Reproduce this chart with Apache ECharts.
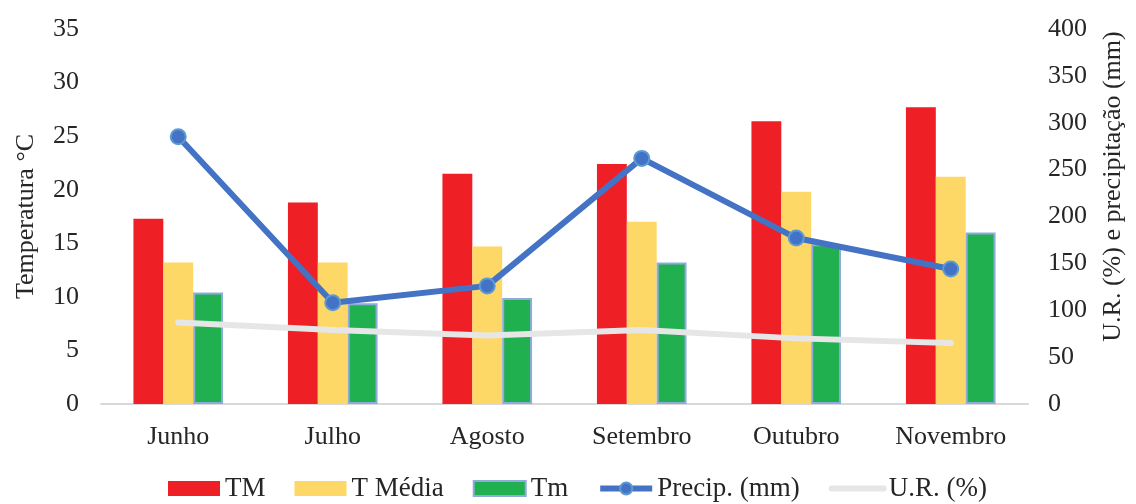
<!DOCTYPE html>
<html>
<head>
<meta charset="utf-8">
<script src="https://cdn.jsdelivr.net/npm/echarts@6/dist/echarts.min.js"></script>
<style>
  html, body { margin: 0; padding: 0; background: #ffffff; }
  #chart { width: 1136px; height: 504px; }
</style>
</head>
<body>
<div id="chart"></div>
<script>
// Monthly climate data: temperatures (°C), rainfall (mm) and relative humidity (%)
const months = ['Junho', 'Julho', 'Agosto', 'Setembro', 'Outubro', 'Novembro'];
const tMax = [17.3, 18.8, 21.5, 22.4, 26.4, 27.7];
const tMean = [13.2, 13.2, 14.7, 17.0, 19.8, 21.2];
const tMin = [10.4, 9.4, 9.9, 13.2, 14.9, 16.0];
const precip = [285, 108, 126, 262, 177, 144];
const relHum = [87, 79, 73, 79, 70, 65];
const tempTicks = [0, 5, 10, 15, 20, 25, 30, 35];
const rightTicks = [0, 50, 100, 150, 200, 250, 300, 350, 400];

const serif = '"Liberation Serif", "DejaVu Serif", serif';
const textColor = '#262626';
const blue = '#4472c4';
const grey = '#e6e6e6';

const chart = echarts.init(document.getElementById('chart'), null, { renderer: 'canvas' });

chart.setOption({
  animation: false,
  textStyle: { fontFamily: serif },
  grid: { left: 101, right: 108, top: 29, bottom: 100 },
  legend: {
    top: 470,
    left: 163,
    itemWidth: 52,
    itemHeight: 15,
    itemGap: 29,
    textStyle: { fontFamily: serif, fontSize: 27, color: textColor },
    data: [
      { name: 'TM', icon: 'rect' },
      { name: 'T Média', icon: 'rect' },
      { name: 'Tm', icon: 'rect' },
      {
        name: 'Precip. (mm)',
        itemStyle: { color: blue, borderColor: '#5b9bd5', borderWidth: 2 },
        lineStyle: { color: blue, width: 6 }
      },
      {
        name: 'U.R. (%)',
        itemStyle: { color: 'rgba(0,0,0,0)', borderWidth: 0 },
        lineStyle: { color: grey, width: 6 }
      }
    ]
  },
  xAxis: {
    type: 'category',
    data: months,
    axisLine: { lineStyle: { color: '#d9d9d9', width: 2 } },
    axisTick: { show: false },
    axisLabel: { fontFamily: serif, fontSize: 26, color: textColor, margin: 20 }
  },
  yAxis: [
    {
      type: 'value',
      min: tempTicks[0],
      max: tempTicks[tempTicks.length - 1],
      interval: 5,
      name: 'Temperatura °C',
      nameLocation: 'middle',
      nameGap: 62,
      nameRotate: 90,
      nameTextStyle: { fontFamily: serif, fontSize: 26, color: textColor },
      axisLine: { show: false },
      axisTick: { show: false },
      splitLine: { show: false },
      axisLabel: { fontFamily: serif, fontSize: 26, color: textColor, margin: 22 }
    },
    {
      type: 'value',
      min: rightTicks[0],
      max: rightTicks[rightTicks.length - 1],
      interval: 50,
      name: 'U.R. (%) e precipitação (mm)',
      nameLocation: 'middle',
      nameGap: 72,
      nameRotate: 90,
      nameTextStyle: { fontFamily: serif, fontSize: 26, color: textColor, padding: [0, 0, 0, 60] },
      axisLine: { show: false },
      axisTick: { show: false },
      splitLine: { show: false },
      axisLabel: { fontFamily: serif, fontSize: 26, color: textColor, margin: 20 }
    }
  ],
  series: [
    {
      name: 'TM',
      type: 'bar',
      data: tMax,
      barGap: '0%',
      barCategoryGap: '42%',
      itemStyle: { color: '#ee1f25' }
    },
    {
      name: 'T Média',
      type: 'bar',
      data: tMean,
      itemStyle: { color: '#fed866' }
    },
    {
      name: 'Tm',
      type: 'bar',
      data: tMin,
      itemStyle: { color: '#20b050', borderColor: '#8faadc', borderWidth: 2 }
    },
    {
      name: 'Precip. (mm)',
      type: 'line',
      yAxisIndex: 1,
      data: precip,
      symbol: 'circle',
      symbolSize: 15,
      z: 4,
      lineStyle: { color: blue, width: 6 },
      itemStyle: { color: blue, borderColor: '#5b9bd5', borderWidth: 2 }
    },
    {
      name: 'U.R. (%)',
      type: 'line',
      yAxisIndex: 1,
      data: relHum,
      symbol: 'none',
      z: 3,
      lineStyle: { color: grey, width: 6, cap: 'round', join: 'round' },
      itemStyle: { color: grey }
    }
  ]
});
</script>
</body>
</html>
